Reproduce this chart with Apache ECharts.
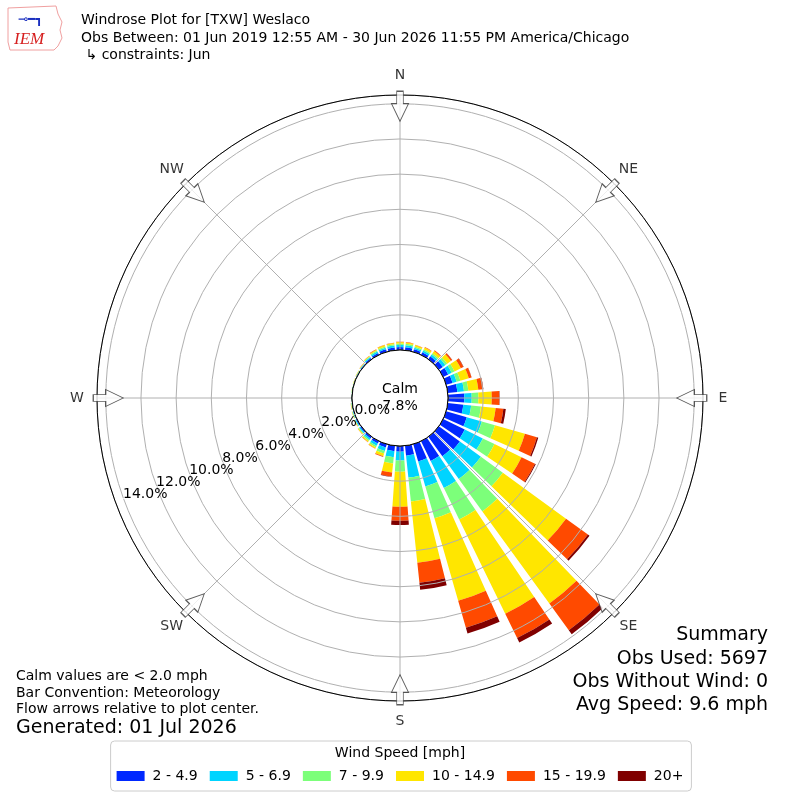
<!DOCTYPE html>
<html><head><meta charset="utf-8">
<script src="https://cdn.jsdelivr.net/npm/echarts@6/dist/echarts.min.js"></script>
<style>html,body{margin:0;padding:0;background:#fff}#c{width:800px;height:800px}</style>
</head><body><div id="c"></div>
<script>
// Directions (degrees, meteorological convention)
const directions = [0,10,20,30,40,50,60,70,80,90,100,110,120,130,140,150,160,170,180,190,200,210,220,230,240,250,260,270,280,290,300,310,320,330,340,350];
const speedBins = ['2 - 4.9','5 - 6.9','7 - 9.9','10 - 14.9','15 - 19.9','20+'];
const binColors = ['#0028ff','#00d4ff','#7cff7a','#ffe600','#ff4a00','#800000'];
// Percent frequency per direction and speed bin
const bin2to5   = [.17,.17,.15,.17,.20,.28,.32,.38,.55,.93,.89,1.22,1.37,1.48,1.37,1.25,1.02,.57,.32,.31,.20,.15,.12,.08,.06,.04,.03,.02,.02,.02,.03,.05,.09,.12,.15,.16];
const bin5to7   = [.12,.12,.10,.11,.13,.18,.22,.24,.38,.42,.45,.89,1.14,1.48,1.59,1.71,1.48,1.25,.51,.35,.20,.14,.10,.07,.05,.03,.02,.015,.015,.015,.02,.03,.06,.09,.10,.11];
const bin7to10  = [.08,.08,.07,.08,.09,.13,.18,.22,.25,.38,.56,.78,.74,1.54,2.28,1.99,1.88,1.37,.63,.35,.15,.10,.08,.05,.03,.03,.02,.01,.01,.01,.02,.02,.04,.06,.07,.07];
const bin10to15 = [.08,.08,.08,.11,.15,.26,.40,.50,.57,.76,.84,1.77,1.71,4.44,6.48,5.97,4.89,3.50,1.99,.52,.16,.07,.06,.04,.03,.02,.02,.01,.01,.02,.015,.02,.04,.06,.08,.07];
const bin15to20 = [.02,.02,.02,.03,.05,.09,.16,.16,.27,.43,.44,.71,.85,1.54,1.88,1.54,1.59,1.15,.80,.23,.04,.02,.02,.01,.01,.005,.005,0,0,0,.005,.01,.01,.02,.02,.02];
const bin20plus = [0,0,0,0,0,.01,.02,.01,.02,.02,.14,.08,.05,.11,.28,.28,.34,.40,.24,.02,.005,0,0,0,0,0,0,0,0,0,0,0,0,0,0,0];
const compassLabels = ['N','NE','E','SE','S','SW','W','NW'];
const compassAngles = [0,45,90,135,180,225,270,315];
const ringTicks = [0,2,4,6,8,10,12,14];
const calmPct = 7.8;
const radiusMax = 14.5;
const summaryLines = ['Summary','Obs Used: 5697','Obs Without Wind: 0','Avg Speed: 9.6 mph'];
const noteLines = ['Calm values are < 2.0 mph','Bar Convention: Meteorology','Flow arrows relative to plot center.'];

const FONT = 'DejaVu Sans';
const CX = 400, CY = 398, R0 = 48, R1 = 303, RLAB = 323;
const bins = [bin2to5, bin5to7, bin7to10, bin10to15, bin15to20, bin20plus];

const chart = echarts.init(document.getElementById('c'), null, {renderer:'canvas'});

const barSeries = speedBins.map((name, k) => ({
  type:'bar', name, coordinateSystem:'polar', polarIndex:0, stack:'wind',
  data: bins[k], barCategoryGap:'20%', itemStyle:{color: binColors[k]}, silent:true, z:2
}));

const arrowPath = 'path://M8.5,0 L17,17.6 L11.8,17.6 L11.8,30 L5.2,30 L5.2,17.6 L0,17.6 Z';

const graphics = [];
// logo (approximation)
graphics.push({type:'polygon', shape:{points:[[8,8],[56,6],[58,14],[62,22],[60,30],[62,38],[58,46],[54,50],[10,50],[8,42]]}, style:{fill:'none', stroke:'#f0a0a0', lineWidth:1}, z:10});
graphics.push({type:'text', x:14, y:40, style:{text:'IEM', font:'italic 17px "Liberation Serif"', fill:'#d62020', verticalAlign:'middle'}, z:10});
graphics.push({type:'text', x:18, y:20, style:{text:'⊸━┓', font:'12px DejaVu Sans', fill:'#1a2fbf', verticalAlign:'middle'}, z:10});
// titles
const titleLines = ['Windrose Plot for [TXW] Weslaco','Obs Between: 01 Jun 2019 12:55 AM - 30 Jun 2026 11:55 PM America/Chicago',' ↳ constraints: Jun'];
[20, 38, 55].forEach((y,i)=>graphics.push({type:'text', x:81, y, style:{text:titleLines[i], font:'14px '+FONT, fill:'#000', verticalAlign:'middle'}, z:10}));
// notes
[676, 693, 709].forEach((y,i)=>graphics.push({type:'text', x:16, y, style:{text:noteLines[i], font:'14px '+FONT, fill:'#000', verticalAlign:'middle'}, z:10}));
graphics.push({type:'text', x:16, y:728, style:{text:'Generated: 01 Jul 2026', font:'19px '+FONT, fill:'#000', verticalAlign:'middle'}, z:10});
// summary
[635, 659, 682, 705].forEach((y,i)=>graphics.push({type:'text', x:768, y, style:{text:summaryLines[i], font:'19px '+FONT, fill:'#000', align:'right', verticalAlign:'middle'}, z:10}));
// legend title
graphics.push({type:'text', x:400, y:753, style:{text:'Wind Speed [mph]', font:'14px '+FONT, fill:'#000', align:'center', verticalAlign:'middle'}, z:10});

const hiddenAxis = {axisLine:{show:false}, axisTick:{show:false}, axisLabel:{show:false}, splitLine:{show:false}};

const option = {
  animation:false,
  backgroundColor:'#fff',
  textStyle:{fontFamily:FONT},
  polar:[
    {center:[CX, CY], radius:[R0, R1]},
    {center:[CX, CY], radius:[R0, R1]},
    {center:[CX, CY], radius:[0, RLAB]}
  ],
  angleAxis:[
    Object.assign({polarIndex:0, type:'category', data: directions.map(String), startAngle:95, clockwise:true}, hiddenAxis),
    {polarIndex:1, type:'value', min:0, max:360, interval:45, startAngle:90, clockwise:true, z:3,
     axisLine:{show:true, lineStyle:{color:'#000', width:1}}, axisTick:{show:false},
     axisLabel:{show:false},
     splitLine:{show:true, lineStyle:{color:'#b0b0b0', width:1}}},
    Object.assign({polarIndex:2, type:'value', min:0, max:360, startAngle:90, clockwise:true}, hiddenAxis)
  ],
  radiusAxis:[
    Object.assign({polarIndex:0, type:'value', min:0, max:radiusMax}, hiddenAxis),
    {polarIndex:1, type:'value', min:0, max:radiusMax, interval:2, z:3, axisLine:{show:false}, axisTick:{show:false}, axisLabel:{show:false},
     splitLine:{show:true, lineStyle:{color:'#b0b0b0', width:1}}},
    Object.assign({polarIndex:2, type:'value', min:0, max:1}, hiddenAxis)
  ],
  legend:{
    data: speedBins, left:'center', top:741, orient:'horizontal',
    itemWidth:28, itemHeight:10, itemGap:12, icon:'rect',
    borderColor:'#cccccc', borderWidth:1, borderRadius:4, padding:[28,8,8,6],
    backgroundColor:'#fff',
    textStyle:{fontSize:14, color:'#000', fontFamily:FONT, padding:[0,0,0,3]},
    selectedMode:false
  },
  graphic: graphics,
  series:[
    ...barSeries,
    {type:'pie', center:[CX, CY], radius:[0, R0], silent:true, z:4,
     data:[{value:calmPct, name:'Calm'}],
     itemStyle:{color:'#fff', borderColor:'#000', borderWidth:1},
     label:{show:true, position:'center', formatter:'Calm\n' + calmPct.toFixed(1) + '%', fontSize:14, lineHeight:17, color:'#000', fontFamily:FONT},
     labelLine:{show:false}, emphasis:{disabled:true}},
    {type:'scatter', coordinateSystem:'polar', polarIndex:1, silent:true, z:5,
     symbolSize:1, itemStyle:{color:'#ffffff', opacity:1},
     data: ringTicks.map(v=>[v, 250]),
     label:{show:true, position:[0,0], offset:[0,3], align:'left', verticalAlign:'bottom', fontSize:14, color:'#000000', opacity:1, textBorderWidth:0, fontFamily:FONT,
       formatter:(p)=> p.value[0].toFixed(1) + '%'},
     emphasis:{disabled:true}},
    {type:'scatter', coordinateSystem:'polar', polarIndex:2, silent:true, z:5,
     symbolSize:1, itemStyle:{color:'#ffffff'},
     data: compassAngles.map((a,i)=>({value:[1, a], name:compassLabels[i]})),
     label:{show:true, position:'inside', align:'center', verticalAlign:'middle', fontSize:14, color:'#000000', textBorderWidth:0, fontFamily:FONT,
       formatter:(p)=> p.name},
     emphasis:{disabled:true}},
    {type:'scatter', coordinateSystem:'polar', polarIndex:1, silent:true, z:6,
     symbol: arrowPath, symbolSize:[17,30], symbolKeepAspect:false,
     itemStyle:{color:'#fff', borderColor:'#333', borderWidth:1},
     data: compassAngles.map(a=>({value:[13.86, a], symbolRotate: -(a + 180)})),
     emphasis:{disabled:true}}
  ]
};
chart.setOption(option);
</script></body></html>
